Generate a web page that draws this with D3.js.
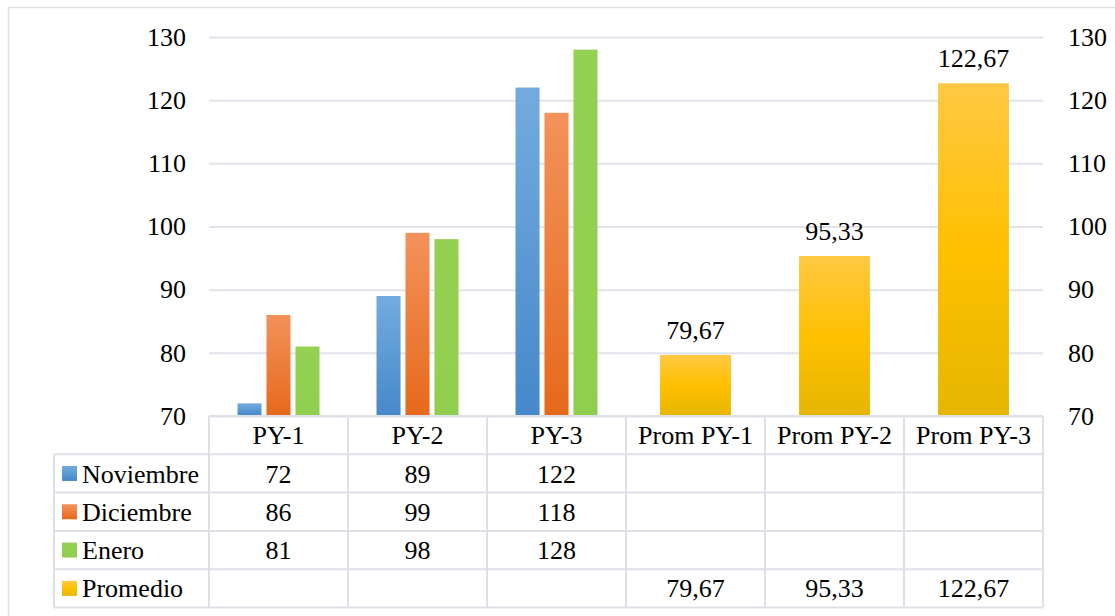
<!DOCTYPE html>
<html><head><meta charset="utf-8">
<script src="https://cdn.jsdelivr.net/npm/d3@7"></script>
<style>
html,body{margin:0;padding:0;background:#fff;}
svg text{font-family:"Liberation Serif","Tinos","Times New Roman","Nimbus Roman","DejaVu Serif",serif !important;fill:#000;}
</style></head>
<body>
<svg id="chart" width="1115" height="616"></svg>
<script>
const categories = ["PY-1","PY-2","PY-3","Prom PY-1","Prom PY-2","Prom PY-3"];
const monthSeries = ["Noviembre","Diciembre","Enero"];
const noviembre = [72, 89, 122, null, null, null];
const diciembre = [86, 99, 118, null, null, null];
const enero = [81, 98, 128, null, null, null];
const promedio = [null, null, null, 79.67, 95.33, 122.67];
const yTicks = [70, 80, 90, 100, 110, 120, 130];
const legendNames = ["Noviembre","Diciembre","Enero","Promedio"];

const colors = {
  Noviembre: ["#74abde", "#4688ca"],
  Diciembre: ["#f3925a", "#e6691b"],
  Enero: ["#94d153", "#90cf4e"],
  Promedio: ["#ffc843", "#ffc000", "#e6b600"]
};
const fmt = v => v == null ? "" : (Number.isInteger(v) ? String(v) : v.toFixed(2).replace(".", ","));
const FF = "'Liberation Serif','Tinos','Times New Roman','Nimbus Roman','DejaVu Serif',serif";

const svg = d3.select("#chart").style("font-family", FF);
const L = 209, R = 1043, T = 37, B = 416;
const rowH = 38.3;
const FS = 26;

// outer border
svg.append("rect").attr("x", 8.5).attr("y", 7.5).attr("width", 1120).attr("height", 620)
  .attr("fill", "#fff").attr("stroke", "#dde1e7").attr("stroke-width", 1.5);

// gradients
const defs = svg.append("defs");
Object.entries(colors).forEach(([k, c]) => {
  const g = defs.append("linearGradient").attr("id", "g-" + k).attr("x1", 0).attr("y1", 0).attr("x2", 0).attr("y2", 1);
  c.forEach((col, i) => g.append("stop").attr("offset", (i / (c.length - 1) * 100) + "%").attr("stop-color", col));
});

const x = d3.scaleBand().domain(categories).range([L, R]).paddingInner(0).paddingOuter(0);
const y = d3.scaleLinear().domain([70, 130]).range([B, T]);
const x1 = d3.scaleBand().domain(monthSeries).range([-41, 41]).paddingInner(0.17);
const x2 = d3.scaleBand().domain(categories).range([L, R]).paddingInner(0.49).paddingOuter(0.245);

// gridlines
svg.append("g").attr("transform", `translate(${L},0)`)
  .call(d3.axisLeft(y).tickValues(yTicks).tickSize(-(R - L)).tickFormat(""))
  .call(g => g.select(".domain").remove())
  .call(g => g.selectAll("line").attr("stroke", "#dfe3ea").attr("stroke-width", 2));

// left axis
svg.append("g").attr("transform", `translate(${L},0)`)
  .call(d3.axisLeft(y).tickValues(yTicks).tickSize(0).tickPadding(23))
  .call(g => g.attr("font-family", null).attr("font-size", null))
  .call(g => g.select(".domain").remove())
  .call(g => g.selectAll("text").attr("font-size", FS).style("font-family", FF));

// right axis
svg.append("g").attr("transform", `translate(${R},0)`)
  .call(d3.axisRight(y).tickValues(yTicks).tickSize(0).tickPadding(25))
  .call(g => g.attr("font-family", null).attr("font-size", null))
  .call(g => g.select(".domain").remove())
  .call(g => g.selectAll("text").attr("font-size", FS).style("font-family", FF));

// month bars
const monthData = {Noviembre: noviembre, Diciembre: diciembre, Enero: enero};
monthSeries.forEach(s => {
  svg.append("g").selectAll("rect")
    .data(categories.map((c, i) => ({c, v: monthData[s][i]})).filter(d => d.v != null))
    .join("rect")
    .attr("x", d => x(d.c) + x.bandwidth() / 2 + x1(s))
    .attr("width", x1.bandwidth())
    .attr("y", d => y(d.v))
    .attr("height", d => y(70) - y(d.v))
    .attr("fill", `url(#g-${s})`);
});

// promedio bars
const promData = categories.map((c, i) => ({c, v: promedio[i]})).filter(d => d.v != null);
svg.append("g").selectAll("rect").data(promData).join("rect")
  .attr("x", d => x2(d.c)).attr("width", x2.bandwidth())
  .attr("y", d => y(d.v)).attr("height", d => y(70) - y(d.v))
  .attr("fill", "url(#g-Promedio)");
svg.append("g").selectAll("text").data(promData).join("text")
  .attr("x", d => x2(d.c) + x2.bandwidth() / 2).attr("y", d => y(d.v) - 16)
  .attr("text-anchor", "middle").attr("font-size", FS).text(d => fmt(d.v));

// data table
const tbl = svg.append("g");
const lineCol = "#dde1e7";
const tableTop = B, nRows = 5;
const legendLeft = 54;
for (let r = 0; r <= nRows; r++) {
  const yy = tableTop + r * rowH;
  tbl.append("line").attr("x1", r === 0 ? L : legendLeft).attr("x2", R)
    .attr("y1", yy).attr("y2", yy).attr("stroke", lineCol).attr("stroke-width", 2);
}
const colEdges = categories.map(c => x(c)).concat([R]);
colEdges.forEach(xx => tbl.append("line").attr("x1", xx).attr("x2", xx)
  .attr("y1", tableTop).attr("y2", tableTop + nRows * rowH).attr("stroke", lineCol).attr("stroke-width", 2));
tbl.append("line").attr("x1", legendLeft).attr("x2", legendLeft)
  .attr("y1", tableTop + rowH).attr("y2", tableTop + nRows * rowH).attr("stroke", lineCol).attr("stroke-width", 2);

tbl.selectAll("text.hdr").data(categories).join("text").attr("class", "hdr")
  .attr("x", c => x(c) + x.bandwidth() / 2).attr("y", tableTop + rowH / 2)
  .attr("dy", "0.35em").attr("text-anchor", "middle").attr("font-size", FS).text(c => c);

const rowData = [noviembre, diciembre, enero, promedio];
legendNames.forEach((name, r) => {
  const cy = tableTop + (r + 1) * rowH + rowH / 2;
  tbl.append("rect").attr("x", 62).attr("y", cy - 7.5).attr("width", 15).attr("height", 15)
    .attr("fill", `url(#g-${name})`);
  tbl.append("text").attr("x", 82).attr("y", cy).attr("dy", "0.35em").attr("font-size", FS).text(name);
  tbl.append("g").selectAll("text").data(categories.map((c, i) => ({c, v: rowData[r][i]})).filter(d => d.v != null))
    .join("text").attr("x", d => x(d.c) + x.bandwidth() / 2).attr("y", cy).attr("dy", "0.35em")
    .attr("text-anchor", "middle").attr("font-size", FS).text(d => fmt(d.v));
});
</script>
</body></html>
